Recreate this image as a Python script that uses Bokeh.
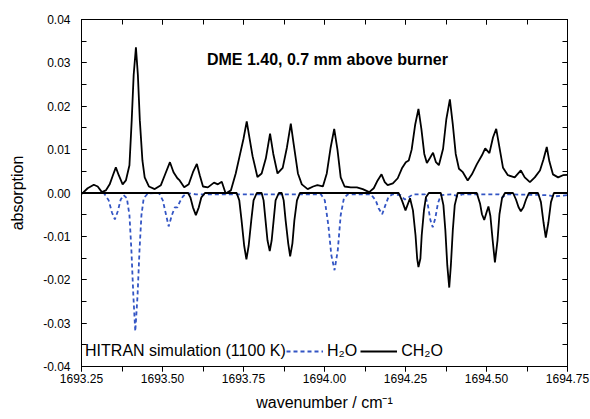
from bokeh.plotting import figure
from bokeh.models import (Range1d, LinearAxis, SingleIntervalTicker, PrintfTickFormatter,
                          CustomJSTickFormatter, Label, Legend, LegendItem)
from bokeh.embed import file_html
from bokeh.resources import INLINE

# measured absorption spectrum (positive trace)
meas_x = [1693.251, 1693.269, 1693.288, 1693.300, 1693.313, 1693.325, 1693.337, 1693.347, 1693.356, 1693.365,
          1693.377, 1693.387, 1693.398, 1693.405, 1693.411, 1693.418, 1693.424, 1693.430, 1693.438, 1693.445,
          1693.458, 1693.476, 1693.495, 1693.507, 1693.523, 1693.534, 1693.546, 1693.553, 1693.567, 1693.581,
          1693.594, 1693.606, 1693.615, 1693.625, 1693.640, 1693.659, 1693.671, 1693.683, 1693.695, 1693.711,
          1693.726, 1693.738, 1693.750, 1693.760, 1693.769, 1693.778, 1693.793, 1693.806, 1693.819, 1693.832,
          1693.842, 1693.855, 1693.871, 1693.884, 1693.896, 1693.905, 1693.918, 1693.930, 1693.948, 1693.965,
          1693.978, 1693.995, 1694.007, 1694.019, 1694.030, 1694.040, 1694.050, 1694.062, 1694.081, 1694.100,
          1694.118, 1694.138, 1694.152, 1694.164, 1694.176, 1694.186, 1694.195, 1694.211, 1694.226, 1694.239,
          1694.251, 1694.260, 1694.269, 1694.280, 1694.290, 1694.299, 1694.308, 1694.316, 1694.325, 1694.335,
          1694.344, 1694.353, 1694.366, 1694.376, 1694.387, 1694.396, 1694.405, 1694.415, 1694.427, 1694.442,
          1694.455, 1694.470, 1694.486, 1694.496, 1694.509, 1694.520, 1694.530, 1694.540, 1694.551, 1694.566,
          1694.587, 1694.606, 1694.618, 1694.634, 1694.649, 1694.665, 1694.676, 1694.686, 1694.694, 1694.705,
          1694.721, 1694.736, 1694.750]
meas_y = [-0.0002, 0.0011, 0.0019, 0.0015, 0.0002, 0.0006, 0.0020, 0.0041, 0.0059, 0.0041,
          0.0020, 0.0029, 0.0064, 0.0168, 0.0272, 0.0336, 0.0272, 0.0168, 0.0075, 0.0036,
          0.0015, 0.0009, 0.0018, 0.0041, 0.0071, 0.0048, 0.0034, 0.0029, 0.0013, 0.0020,
          0.0048, 0.0067, 0.0041, 0.0015, 0.0013, 0.0024, 0.0020, 0.0026, -0.0001, 0.0006,
          0.0045, 0.0085, 0.0125, 0.0165, 0.0125, 0.0085, 0.0037, 0.0045, 0.0080, 0.0137,
          0.0090, 0.0045, 0.0058, 0.0105, 0.0160, 0.0112, 0.0045, 0.0020, 0.0009, 0.0015,
          0.0018, 0.0015, 0.0045, 0.0105, 0.0148, 0.0100, 0.0036, 0.0015, 0.0013, 0.0013,
          0.0009, 0.0002, 0.0011, 0.0029, 0.0043, 0.0025, 0.0018, 0.0022, 0.0034, 0.0057,
          0.0071, 0.0075, 0.0100, 0.0158, 0.0194, 0.0148, 0.0090, 0.0069, 0.0080, 0.0093,
          0.0071, 0.0064, 0.0102, 0.0170, 0.0216, 0.0158, 0.0090, 0.0056, 0.0048, 0.0029,
          0.0043, 0.0066, 0.0087, 0.0103, 0.0092, 0.0128, 0.0148, 0.0105, 0.0058, 0.0041,
          0.0036, 0.0052, 0.0036, 0.0025, 0.0036, 0.0052, 0.0078, 0.0106, 0.0073, 0.0043,
          0.0036, 0.0041, 0.0042]

# HITRAN H2O simulation (plotted negative)
h2o_x = [1693.251, 1693.319, 1693.334, 1693.344, 1693.353, 1693.362, 1693.371, 1693.380, 1693.390, 1693.398,
         1693.404, 1693.410, 1693.416, 1693.423, 1693.429, 1693.435, 1693.442, 1693.455, 1693.489, 1693.501,
         1693.510, 1693.519, 1693.529, 1693.538, 1693.546, 1693.553, 1693.563, 1693.575, 1693.603, 1693.710,
         1693.989, 1694.001, 1694.012, 1694.021, 1694.031, 1694.041, 1694.050, 1694.060, 1694.072, 1694.143,
         1694.158, 1694.167, 1694.178, 1694.188, 1694.198, 1694.211, 1694.235, 1694.248, 1694.260, 1694.273,
         1694.310, 1694.319, 1694.327, 1694.334, 1694.342, 1694.350, 1694.359, 1694.396, 1694.411, 1694.426,
         1694.537, 1694.549, 1694.561, 1694.692, 1694.707, 1694.750]
h2o_y = [0.0, 0.0, -0.0017, -0.0045, -0.0061, -0.0042, -0.0015, -0.0005, -0.0012, -0.0051,
         -0.0132, -0.0236, -0.0319, -0.0236, -0.0132, -0.0051, -0.0012, -0.0001, 0.0, -0.0017,
         -0.0047, -0.0077, -0.0051, -0.0033, -0.0033, -0.0021, -0.0008, 0.0, -0.0003, -0.0003,
         -0.0003, -0.0017, -0.0075, -0.0143, -0.0178, -0.0132, -0.0051, -0.0012, -0.0003, -0.0003,
         -0.0017, -0.0035, -0.0049, -0.0028, -0.0008, -0.0003, -0.0005, -0.0015, -0.0010, -0.0003,
         -0.0003, -0.0028, -0.0063, -0.0079, -0.0058, -0.0024, -0.0005, -0.0003, -0.0008, -0.0003,
         -0.0003, -0.0010, -0.0003, -0.0005, -0.0008, -0.0005]

# HITRAN CH2O simulation (plotted negative)
ch2o_x = [1693.251, 1693.579, 1693.586, 1693.594, 1693.603, 1693.612, 1693.620, 1693.631, 1693.729, 1693.737,
          1693.744, 1693.752, 1693.759, 1693.766, 1693.774, 1693.781, 1693.791, 1693.806, 1693.812, 1693.818,
          1693.824, 1693.831, 1693.837, 1693.843, 1693.849, 1693.859, 1693.868, 1693.874, 1693.880, 1693.888,
          1693.894, 1693.901, 1693.907, 1693.915, 1693.924, 1694.229, 1694.239, 1694.250, 1694.264, 1694.273,
          1694.281, 1694.286, 1694.290, 1694.296, 1694.300, 1694.307, 1694.313, 1694.322, 1694.359, 1694.367,
          1694.373, 1694.379, 1694.385, 1694.390, 1694.396, 1694.402, 1694.411, 1694.470, 1694.480, 1694.486,
          1694.493, 1694.500, 1694.506, 1694.512, 1694.519, 1694.526, 1694.534, 1694.540, 1694.548, 1694.557,
          1694.582, 1694.591, 1694.599, 1694.606, 1694.614, 1694.622, 1694.631, 1694.659, 1694.668, 1694.676,
          1694.683, 1694.691, 1694.699, 1694.708, 1694.750]
ch2o_y = [0.0, 0.0, -0.0010, -0.0033, -0.0051, -0.0033, -0.0010, 0.0, 0.0, -0.0017,
          -0.0063, -0.0121, -0.0153, -0.0121, -0.0063, -0.0017, 0.0, 0.0, -0.0017, -0.0063,
          -0.0109, -0.0134, -0.0109, -0.0063, -0.0017, 0.0, 0.0, -0.0017, -0.0063, -0.0116,
          -0.0146, -0.0116, -0.0063, -0.0017, 0.0, 0.0, -0.0017, -0.0040, -0.0012, -0.0040,
          -0.0098, -0.0151, -0.0171, -0.0151, -0.0098, -0.0040, -0.0010, 0.0, 0.0, -0.0028,
          -0.0086, -0.0167, -0.0218, -0.0167, -0.0086, -0.0028, 0.0, 0.0, -0.0024, -0.0049,
          -0.0062, -0.0045, -0.0031, -0.0053, -0.0109, -0.0160, -0.0109, -0.0049, -0.0012, 0.0,
          0.0, -0.0015, -0.0033, -0.0042, -0.0033, -0.0015, 0.0, 0.0, -0.0021, -0.0068,
          -0.0103, -0.0068, -0.0021, 0.0, 0.0]

FONT = "Liberation Sans"
BLUE = "#3355c4"

p = figure(width=590, height=419, output_backend="svg", toolbar_location=None,
           x_range=Range1d(1693.25, 1694.75), y_range=Range1d(-0.04, 0.04),
           min_border_left=81, min_border_right=23, min_border_top=19, min_border_bottom=53)
p.background_fill_color = "white"
p.border_fill_color = "white"
p.grid.visible = False
p.outline_line_color = "black"
p.outline_line_width = 1

xa = p.xaxis[0]
xa.ticker = SingleIntervalTicker(interval=0.25, num_minor_ticks=2)
xa.formatter = PrintfTickFormatter(format="%.2f")
xa.axis_label = "wavenumber / cm\u207b\u00b9"
ya = p.yaxis[0]
ya.ticker = SingleIntervalTicker(interval=0.01, num_minor_ticks=2)
ya.formatter = PrintfTickFormatter(format="%.2f")
ya.axis_label = "absorption"

for ax in (xa, ya):
    ax.axis_line_color = "black"
    ax.major_tick_line_color = "black"
    ax.minor_tick_line_color = "black"
    ax.major_label_text_font = FONT
    ax.major_label_text_font_size = "12px"
    ax.major_label_text_color = "black"
    ax.axis_label_text_font = FONT
    ax.axis_label_text_font_size = "16px"
    ax.axis_label_text_font_style = "normal"
    ax.axis_label_text_color = "black"

xa.major_tick_in = 0
xa.major_tick_out = 5
xa.minor_tick_in = 0
xa.minor_tick_out = 5
xa.major_label_standoff = 2
xa.axis_label_standoff = 8

ya.major_tick_in = 5
ya.major_tick_out = 0
ya.minor_tick_in = 5
ya.minor_tick_out = 0
ya.major_label_standoff = 11
ya.axis_label_standoff = 14

blank = CustomJSTickFormatter(code="return ''")
top = LinearAxis(ticker=SingleIntervalTicker(interval=0.25, num_minor_ticks=2), formatter=blank,
                 major_label_standoff=0,
                 major_tick_in=5, major_tick_out=0, minor_tick_in=5, minor_tick_out=0)
right = LinearAxis(ticker=SingleIntervalTicker(interval=0.01, num_minor_ticks=2), formatter=blank,
                   major_label_standoff=0,
                   major_tick_in=5, major_tick_out=0, minor_tick_in=5, minor_tick_out=0)
p.add_layout(top, "above")
p.add_layout(right, "right")

r_h2o = p.line(h2o_x, h2o_y, line_color=BLUE, line_width=1.8, line_dash="4 3")
r_ch2o = p.line(ch2o_x, ch2o_y, line_color="black", line_width=1.8)
p.line(meas_x, meas_y, line_color="black", line_width=1.8)

p.add_layout(Label(x=1693.637, y=0.0308, text="DME 1.40, 0.7 mm above burner",
                   text_font=FONT, text_font_size="16px", text_font_style="bold",
                   text_baseline="middle", text_color="black"))
p.add_layout(Label(x=1693.261, y=-0.0364, text="HITRAN simulation (1100 K)",
                   text_font=FONT, text_font_size="16px",
                   text_baseline="middle", text_color="black"))

legend = Legend(items=[LegendItem(label="H\u2082O", renderers=[r_h2o]),
                       LegendItem(label="CH\u2082O", renderers=[r_ch2o])],
                orientation="horizontal", location=(205, 5),
                label_text_font=FONT, label_text_font_size="16px", label_text_color="black",
                glyph_width=37, glyph_height=20, label_height=20,
                label_standoff=4, spacing=3, padding=0, margin=0,
                border_line_alpha=0, background_fill_alpha=0)
p.add_layout(legend)

open("out.html", "w").write(file_html(p, INLINE))
